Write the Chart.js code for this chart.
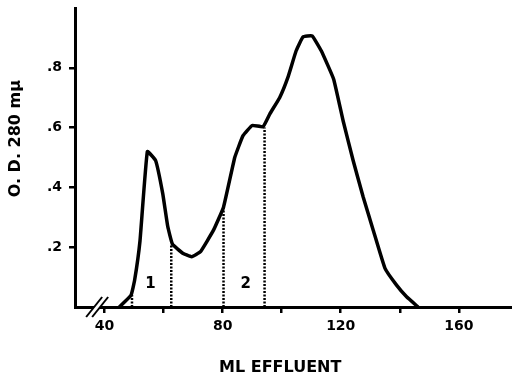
<!DOCTYPE html>
<html>
<head>
<meta charset="utf-8">
<script src="https://cdn.jsdelivr.net/npm/chart.js@4/dist/chart.umd.min.js"></script>
<style>
  html, body { margin: 0; padding: 0; background: #fff; }
</style>
</head>
<body>
<canvas id="chart" width="512" height="379"></canvas>
<script>
// elution profile
const effluent = [45, 49, 50.2, 52, 54.5, 57.3, 59.7, 61.4, 63, 66.5, 69.5, 72.5, 76.9, 80.3, 84.1, 86.9, 90, 93.7, 96, 99.3, 102.1, 104.9, 107.2, 110.3, 113.4, 117.6, 120.8, 124.2, 127.6, 131, 135, 138.9, 142.3, 146.2];
const od = [0, 0.04, 0.09, 0.22, 0.52, 0.49, 0.38, 0.27, 0.21, 0.18, 0.168, 0.185, 0.257, 0.334, 0.5, 0.573, 0.607, 0.603, 0.646, 0.7, 0.768, 0.857, 0.903, 0.907, 0.857, 0.762, 0.623, 0.49, 0.368, 0.257, 0.129, 0.073, 0.034, 0];

// dotted cut lines bounding fractions 1 and 2
const cutAt = [49.3, 62.6, 80.3, 94.2];
const cutHeight = [0.04, 0.21, 0.33, 0.6];

// fraction numbers
const fractionNames = ["1", "2"];
const fractionAt = [55.6, 87.8];
const fractionY = [0.077, 0.077];

const xTicks = [40, 60, 80, 100, 120, 140, 160];
const xLabelled = [40, 80, 120, 160];
const yTicks = [0.2, 0.4, 0.6, 0.8];

const xTitle = "ML EFFLUENT";
const yTitle = "O. D. 280 mµ";

const FONT = "DejaVu Sans";

const datasets = [{
  data: effluent.map((x, i) => ({ x: x, y: od[i] })),
  borderColor: "#000",
  borderWidth: 3.5,
  borderJoinStyle: "round",
  pointRadius: 0,
  tension: 0.1
}];
cutAt.forEach((x, i) => {
  datasets.push({
    data: [{ x: x, y: 0 }, { x: x, y: cutHeight[i] }],
    borderColor: "#000",
    borderWidth: 2.5,
    borderDash: [2, 1.5],
    pointRadius: 0
  });
});

// fraction numbers, axis break and axis titles
const extras = {
  id: "extras",
  afterDraw(chart) {
    const ctx = chart.ctx;
    const xs = chart.scales.x;
    const ys = chart.scales.y;
    const area = chart.chartArea;
    ctx.save();
    ctx.fillStyle = "#000";
    ctx.textAlign = "center";
    ctx.textBaseline = "middle";
    ctx.font = "bold 15px '" + FONT + "'";
    fractionNames.forEach((t, i) => {
      ctx.fillText(t, xs.getPixelForValue(fractionAt[i]), ys.getPixelForValue(fractionY[i]));
    });

    // the // break on the x axis
    const bx = xs.getPixelForValue(37.5);
    const by = area.bottom;
    ctx.strokeStyle = "#fff";
    ctx.lineWidth = 4;
    ctx.beginPath();
    ctx.moveTo(bx - 5, by + 6);
    ctx.lineTo(bx + 5, by - 6);
    ctx.stroke();
    ctx.strokeStyle = "#000";
    ctx.lineWidth = 2;
    [-3, 3].forEach(d => {
      ctx.beginPath();
      ctx.moveTo(bx + d - 8, by + 10);
      ctx.lineTo(bx + d + 8, by - 10);
      ctx.stroke();
    });

    ctx.font = "bold 16px '" + FONT + "'";
    ctx.fillText(xTitle, xs.getPixelForValue(99.5), 368);
    ctx.translate(16, ys.getPixelForValue(0.563));
    ctx.rotate(-Math.PI / 2);
    ctx.fillText(yTitle, 0, 0);
    ctx.restore();
  }
};

new Chart(document.getElementById("chart"), {
  type: "line",
  data: { datasets: datasets },
  options: {
    responsive: false,
    animation: false,
    layout: { padding: { top: 8, right: 0, left: 0, bottom: 0 } },
    plugins: { legend: { display: false }, tooltip: { enabled: false } },
    scales: {
      x: {
        type: "linear",
        min: 30,
        max: 178,
        afterBuildTicks: (s) => { s.ticks = xTicks.map(v => ({ value: v })); },
        afterFit: (s) => { s.height = 72; s.paddingLeft = 0; s.paddingRight = 0; },
        border: { display: true, color: "#000", width: 3 },
        grid: { drawOnChartArea: false, color: "#000", tickLength: 6, lineWidth: 2.5 },
        ticks: {
          color: "#000",
          padding: 5,
          maxRotation: 0,
          autoSkip: false,
          font: { family: FONT, size: 14, weight: "bold" },
          callback: (v) => xLabelled.includes(v) ? String(v) : ""
        }
      },
      y: {
        min: 0,
        max: 1,
        afterBuildTicks: (s) => { s.ticks = yTicks.map(v => ({ value: v })); },
        afterFit: (s) => { s.width = 75; s.paddingTop = 0; s.paddingBottom = 0; },
        border: { display: true, color: "#000", width: 3 },
        grid: { drawOnChartArea: false, color: "#000", tickLength: 6, lineWidth: 2.5 },
        ticks: {
          color: "#000",
          padding: 7,
          font: { family: FONT, size: 14, weight: "bold" },
          callback: (v) => String(v).replace("0.", ".")
        }
      }
    }
  },
  plugins: [extras]
});
</script>
</body>
</html>
